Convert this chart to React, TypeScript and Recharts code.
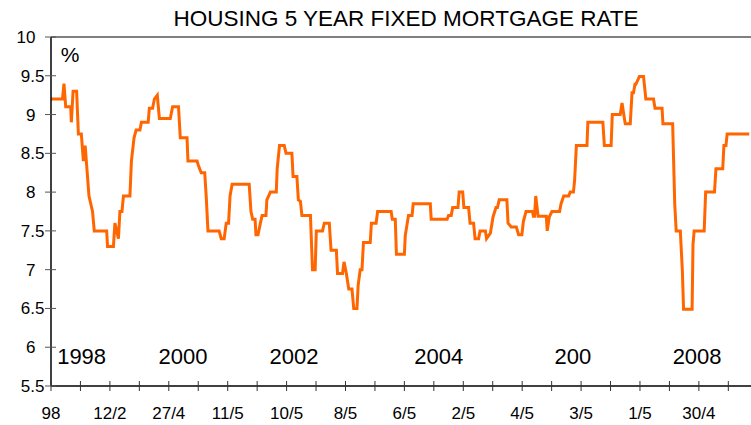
import React from 'react';
import { LineChart, Line, XAxis, YAxis, ReferenceLine, ReferenceDot } from 'recharts';

// x position in half-year tick steps from the first tick
const periods = [
  0, 0.39, 0.44, 0.50, 0.67, 0.69, 0.75, 0.87, 0.93, 1.03,
  1.10, 1.16, 1.20, 1.29, 1.41, 1.47, 1.89, 1.92, 2.12, 2.17,
  2.29, 2.34, 2.41, 2.46, 2.68, 2.73, 2.82, 2.89, 3.02, 3.07,
  3.30, 3.34, 3.45, 3.51, 3.61, 3.68, 4.05, 4.13, 4.33, 4.39,
  4.62, 4.65, 4.96, 5.00, 5.10, 5.22, 5.27, 5.33, 5.71, 5.78,
  5.88, 5.95, 6.03, 6.08, 6.15, 6.73, 6.79, 6.85, 6.93, 6.96,
  7.03, 7.11, 7.17, 7.30, 7.33, 7.45, 7.65, 7.68, 7.76, 7.92,
  7.98, 8.18, 8.22, 8.35, 8.40, 8.47, 8.52, 8.81, 8.88, 8.97,
  9.01, 9.22, 9.28, 9.45, 9.51, 9.69, 9.73, 9.90, 9.95, 10.03,
  10.11, 10.22, 10.28, 10.39, 10.43, 10.50, 10.56, 10.61, 10.84, 10.88,
  11.04, 11.09, 11.55, 11.59, 11.69, 11.73, 12.00, 12.03, 12.14, 12.26,
  12.30, 12.88, 12.91, 13.45, 13.50, 13.59, 13.64, 13.82, 13.86, 13.98,
  14.02, 14.18, 14.23, 14.35, 14.40, 14.52, 14.57, 14.75, 14.79, 14.92,
  15.01, 15.11, 15.16, 15.22, 15.48, 15.52, 15.63, 15.80, 15.88, 15.99,
  16.04, 16.13, 16.35, 16.38, 16.42, 16.46, 16.54, 16.82, 16.85, 16.92,
  17.01, 17.27, 17.32, 17.41, 17.58, 17.63, 17.74, 17.78, 17.84, 18.20,
  18.23, 18.74, 18.79, 19.02, 19.06, 19.33, 19.39, 19.50, 19.67, 19.73,
  19.78, 19.83, 19.86, 19.98, 20.12, 20.20, 20.46, 20.51, 20.75, 20.78,
  21.11, 21.18, 21.23, 21.37, 21.44, 21.48, 21.77, 21.80, 21.84, 22.18,
  22.23, 22.53, 22.58, 22.81, 22.85, 22.92, 22.96, 23.71,
];

const rates = [
  9.2, 9.2, 9.4, 9.1, 9.1, 8.9, 9.3, 9.3, 8.75, 8.75,
  8.4, 8.6, 8.4, 7.95, 7.75, 7.5, 7.5, 7.3, 7.3, 7.6,
  7.4, 7.75, 7.75, 7.95, 7.95, 8.4, 8.7, 8.8, 8.8, 8.9,
  8.9, 9.08, 9.08, 9.2, 9.25, 8.95, 8.95, 9.1, 9.1, 8.7,
  8.7, 8.4, 8.4, 8.35, 8.25, 8.25, 7.95, 7.5, 7.5, 7.4,
  7.4, 7.6, 7.6, 7.95, 8.1, 8.1, 7.75, 7.65, 7.65, 7.45,
  7.45, 7.6, 7.7, 7.7, 7.9, 8.0, 8.0, 8.3, 8.6, 8.6,
  8.5, 8.5, 8.2, 8.2, 7.9, 7.88, 7.7, 7.7, 7.0, 7.0,
  7.5, 7.5, 7.6, 7.6, 7.25, 7.25, 6.95, 6.95, 7.1, 6.95,
  6.75, 6.75, 6.5, 6.5, 6.8, 7.0, 7.0, 7.35, 7.35, 7.6,
  7.6, 7.75, 7.75, 7.65, 7.65, 7.2, 7.2, 7.44, 7.7, 7.7,
  7.85, 7.85, 7.65, 7.65, 7.7, 7.7, 7.8, 7.8, 8.0, 8.0,
  7.8, 7.8, 7.6, 7.6, 7.4, 7.4, 7.5, 7.5, 7.4, 7.47,
  7.68, 7.8, 7.8, 7.9, 7.9, 7.6, 7.55, 7.55, 7.45, 7.45,
  7.62, 7.75, 7.75, 7.69, 7.69, 7.95, 7.69, 7.69, 7.5, 7.68,
  7.75, 7.75, 7.85, 7.95, 7.95, 8.0, 8.0, 8.15, 8.6, 8.6,
  8.9, 8.9, 8.6, 8.6, 9.0, 9.0, 9.15, 8.88, 8.88, 9.28,
  9.28, 9.39, 9.39, 9.49, 9.49, 9.2, 9.2, 9.08, 9.08, 8.88,
  8.88, 7.85, 7.5, 7.5, 6.98, 6.49, 6.49, 7.32, 7.5, 7.5,
  8.0, 8.0, 8.3, 8.3, 8.6, 8.6, 8.75, 8.75,
];

const xTicks = Array.from({ length: 24 }, (_, i) => i);
const xTickLabels = ['98', '12/2', '27/4', '11/5', '10/5', '8/5', '6/5', '2/5', '4/5', '3/5', '1/5', '30/4'];
const yTicks = [5.5, 6, 6.5, 7, 7.5, 8, 8.5, 9, 9.5, 10];

const yearLabels = ['1998', '2000', '2002', '2004', '200', '2008'];
const yearPeriods = [1.04, 4.48, 8.25, 13.17, 17.72, 21.94];
const yearLabelRate = 5.885;

const data = periods.map((p, i) => ({ period: p, rate: rates[i] }));

function XTick({ x, y, payload }: any) {
  const v = payload.value;
  const label = v % 2 === 0 ? xTickLabels[v / 2] : '';
  return (
    <g>
      <line x1={x} x2={x} y1={y - 5} y2={y + 5} stroke="#333" strokeWidth={1} />
      <text x={x} y={y + 32.5} textAnchor="middle" fontSize={17} fill="#000">{label}</text>
    </g>
  );
}

function YTick({ x, y, payload }: any) {
  const v = payload.value;
  const isInt = Number.isInteger(v);
  return (
    <g>
      <line x1={x - 6} x2={x + 5} y1={y} y2={y} stroke="#555" strokeWidth={1} />
      <text x={isInt ? x - 15.5 : x - 6.5} y={y + 6} textAnchor="end" fontSize={17} fill="#000">{String(v)}</text>
    </g>
  );
}

export default function App() {
  return (
    <div style={{ position: 'absolute', left: 0, top: 0, width: 751, height: 425, background: '#fff', fontFamily: '"Liberation Sans", Arial, sans-serif' }}>
      <div style={{ position: 'absolute', left: 0, width: 812, top: 6, textAlign: 'center', fontSize: 22.5, color: '#000' }}>
        HOUSING 5 YEAR FIXED MORTGAGE RATE
      </div>
      <LineChart width={751} height={425} data={data} margin={{ top: 37, right: 0, left: 0, bottom: 0 }}>
        <XAxis
          type="number"
          dataKey="period"
          domain={[0, 23.77]}
          ticks={xTicks}
          interval={0}
          tickSize={0}
          tickMargin={0}
          tickLine={false}
          tick={<XTick />}
          height={39}
          axisLine={{ stroke: '#000', strokeWidth: 1.5 }}
          allowDataOverflow
        />
        <YAxis
          type="number"
          domain={[5.5, 10]}
          ticks={yTicks}
          interval={0}
          tickSize={0}
          tickMargin={0}
          tickLine={false}
          tick={<YTick />}
          width={51}
          axisLine={{ stroke: '#000', strokeWidth: 1.5 }}
        />
        <ReferenceLine y={10} stroke="#808080" strokeWidth={2} />
        <ReferenceDot
          x={0.645}
          y={9.78}
          r={0}
          stroke="none"
          fill="none"
          label={{ value: '%', position: 'center', fontSize: 21, fill: '#000' }}
        />
        {yearLabels.map((t, i) => (
          <ReferenceDot
            key={t}
            x={yearPeriods[i]}
            y={yearLabelRate}
            r={0}
            stroke="none"
            fill="none"
            label={{ value: t, position: 'center', fontSize: 22, fill: '#000' }}
          />
        ))}
        <Line
          type="linear"
          dataKey="rate"
          stroke="#FF6600"
          strokeWidth={3}
          dot={false}
          isAnimationActive={false}
        />
      </LineChart>
    </div>
  );
}
